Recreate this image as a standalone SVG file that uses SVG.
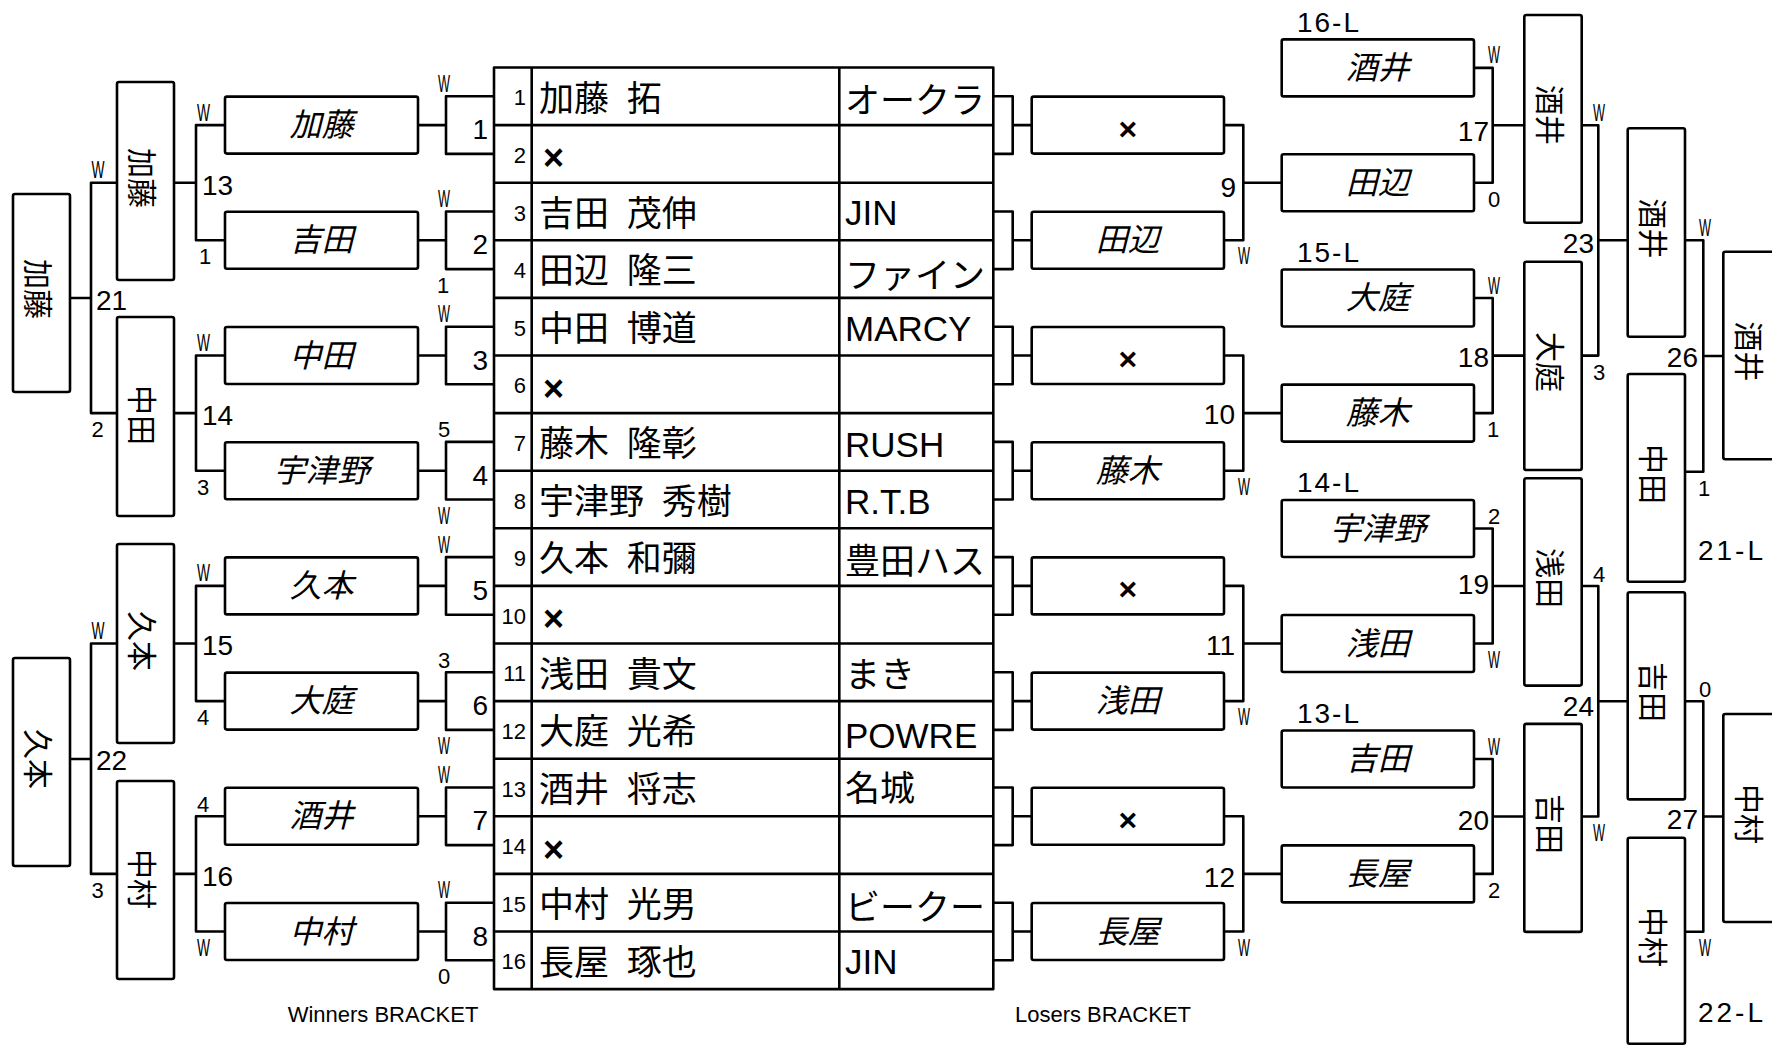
<svg xmlns="http://www.w3.org/2000/svg" width="1772" height="1046" viewBox="0 0 1772 1046">
<style>
.ln{fill:none;stroke:#000;stroke-width:2.6;stroke-linejoin:round}
.bx{fill:#fff;stroke:#000;stroke-width:2.6;stroke-linejoin:round}
text{font-family:"Liberation Sans","Noto Sans CJK JP",sans-serif;fill:#000}
.nm{font-size:35px;word-spacing:8px}
.no{font-size:22px;text-anchor:end}
.it{font-size:32px;font-style:italic;text-anchor:middle;dominant-baseline:central}
.vt{font-size:30px;text-anchor:middle;dominant-baseline:central}
.mn{font-size:28px}
.e{text-anchor:end}
.sm{font-size:22px}
.w{font-size:24px}
.xx{font-size:36px;font-weight:bold}
.xb{font-size:32px;font-weight:bold;text-anchor:middle}
.ft{font-size:22px;text-anchor:middle}
</style>
<rect width="1772" height="1046" fill="#fff"/>

<g id="connectors">
<path class="ln" d="M117,182.7H91V413.1H117M70,298H91"/>
<path class="ln" d="M117,643.5H91V873.9H117M70,759H91"/>
<path class="ln" d="M225,125.1H196V240.3H225M174,182.7H196"/>
<path class="ln" d="M225,355.5H196V470.7H225M174,413.1H196"/>
<path class="ln" d="M225,585.9H196V701.1H225M174,643.5H196"/>
<path class="ln" d="M225,816.3H196V931.5H225M174,873.9H196"/>
<path class="ln" d="M418,125.1H446M418,240.3H446M418,355.5H446M418,470.7H446M418,585.9H446M418,701.1H446M418,816.3H446M418,931.5H446"/>
<path class="ln" d="M494,96.3H446V153.9H494M494,211.5H446V269.1H494M494,326.7H446V384.3H494M494,441.9H446V499.5H494M494,557.1H446V614.7H494M494,672.3H446V729.9H494M494,787.5H446V845.1H494M494,902.7H446V960.3H494"/>
<path class="ln" d="M993.3,96.3H1012.7V153.9H993.3M993.3,211.5H1012.7V269.1H993.3M993.3,326.7H1012.7V384.3H993.3M993.3,441.9H1012.7V499.5H993.3M993.3,557.1H1012.7V614.7H993.3M993.3,672.3H1012.7V729.9H993.3M993.3,787.5H1012.7V845.1H993.3M993.3,902.7H1012.7V960.3H993.3"/>
<path class="ln" d="M1012.7,125.1H1031.7M1012.7,240.3H1031.7M1012.7,355.5H1031.7M1012.7,470.7H1031.7M1012.7,585.9H1031.7M1012.7,701.1H1031.7M1012.7,816.3H1031.7M1012.7,931.5H1031.7"/>
<path class="ln" d="M1224,125.1H1243.3V240.3H1224M1243.3,182.7H1281.7"/>
<path class="ln" d="M1224,355.5H1243.3V470.7H1224M1243.3,413.1H1281.7"/>
<path class="ln" d="M1224,585.9H1243.3V701.1H1224M1243.3,643.5H1281.7"/>
<path class="ln" d="M1224,816.3H1243.3V931.5H1224M1243.3,873.9H1281.7"/>
<path class="ln" d="M1474,67.9H1492.7V182.7H1474M1492.7,125.3H1524.3"/>
<path class="ln" d="M1474,298H1492.7V413.1H1474M1492.7,355.6H1524.3"/>
<path class="ln" d="M1474,528.5H1492.7V643.5H1474M1492.7,586H1524.3"/>
<path class="ln" d="M1474,759H1492.7V873.9H1474M1492.7,816.5H1524.3"/>
<path class="ln" d="M1581.7,125.3H1598.3V355.6H1581.7M1598.3,240.3H1627.7"/>
<path class="ln" d="M1581.7,586H1598.3V816.5H1581.7M1598.3,701.3H1627.7"/>
<path class="ln" d="M1685,240.3H1703.3V471.7H1685M1703.3,356H1723.3"/>
<path class="ln" d="M1685,701.3H1703.3V931.8H1685M1703.3,816.5H1723.3"/>
</g>

<g id="table">
<rect class="bx" x="494" y="67.5" width="499.3" height="921.6"/>
<path class="ln" d="M531.7,67.5V989.1M839.3,67.5V989.1M494,125.1H993.3M494,182.7H993.3M494,240.3H993.3M494,297.9H993.3M494,355.5H993.3M494,413.1H993.3M494,470.7H993.3M494,528.3H993.3M494,585.9H993.3M494,643.5H993.3M494,701.1H993.3M494,758.7H993.3M494,816.3H993.3M494,873.9H993.3M494,931.5H993.3"/>
<text class="no" x="526" y="105.3">1</text>
<text class="no" x="526" y="162.9">2</text>
<text class="no" x="526" y="220.5">3</text>
<text class="no" x="526" y="278.1">4</text>
<text class="no" x="526" y="335.7">5</text>
<text class="no" x="526" y="393.3">6</text>
<text class="no" x="526" y="450.9">7</text>
<text class="no" x="526" y="508.5">8</text>
<text class="no" x="526" y="566.1">9</text>
<text class="no" x="526" y="623.7">10</text>
<text class="no" x="526" y="681.3">11</text>
<text class="no" x="526" y="738.9">12</text>
<text class="no" x="526" y="796.5">13</text>
<text class="no" x="526" y="854.1">14</text>
<text class="no" x="526" y="911.7">15</text>
<text class="no" x="526" y="969.3">16</text>
<text class="nm" x="539" y="110.5">加藤 拓</text>
<text class="xx" x="543" y="170.4">×</text>
<text class="nm" x="539" y="225.7">吉田 茂伸</text>
<text class="nm" x="539" y="283.3">田辺 隆三</text>
<text class="nm" x="539" y="340.9">中田 博道</text>
<text class="xx" x="543" y="400.8">×</text>
<text class="nm" x="539" y="456.1">藤木 隆彰</text>
<text class="nm" x="539" y="513.7">宇津野 秀樹</text>
<text class="nm" x="539" y="571.3">久本 和彌</text>
<text class="xx" x="543" y="631.2">×</text>
<text class="nm" x="539" y="686.5">浅田 貴文</text>
<text class="nm" x="539" y="744.1">大庭 光希</text>
<text class="nm" x="539" y="801.7">酒井 将志</text>
<text class="xx" x="543" y="861.6">×</text>
<text class="nm" x="539" y="916.9">中村 光男</text>
<text class="nm" x="539" y="974.5">長屋 琢也</text>
<text class="nm" x="845" y="112.5">オークラ</text>
<text class="nm" x="845" y="224.7">JIN</text>
<text class="nm" x="845" y="288.3">ファイン</text>
<text class="nm" x="845" y="340.9">MARCY</text>
<text class="nm" x="845" y="457.1">RUSH</text>
<text class="nm" x="845" y="513.7">R.T.B</text>
<text class="nm" x="845" y="574.3">豊田ハス</text>
<text class="nm" x="845" y="686.5">まき</text>
<text class="nm" x="845" y="748.1">POWRE</text>
<text class="nm" x="845" y="800.7">名城</text>
<text class="nm" x="845" y="919.9">ビークー</text>
<text class="nm" x="845" y="973.5">JIN</text>
</g>

<g id="w-final-1"><rect class="bx" x="13" y="194" width="57" height="198" rx="2"/><text class="vt" transform="translate(37.5,289) rotate(90)">加藤</text></g>
<g id="w-final-2"><rect class="bx" x="13" y="658" width="57" height="208" rx="2"/><text class="vt" transform="translate(37.5,759) rotate(90)">久本</text></g>
<g id="w-sf-1"><rect class="bx" x="117" y="82" width="57" height="198" rx="2"/><text class="vt" transform="translate(141.5,178) rotate(90)">加藤</text></g>
<g id="w-sf-2"><rect class="bx" x="117" y="317" width="57" height="199" rx="2"/><text class="vt" transform="translate(141.5,415) rotate(90)">中田</text></g>
<g id="w-sf-3"><rect class="bx" x="117" y="544" width="57" height="199" rx="2"/><text class="vt" transform="translate(141.5,641) rotate(90)">久本</text></g>
<g id="w-sf-4"><rect class="bx" x="117" y="781" width="57" height="198" rx="2"/><text class="vt" transform="translate(141.5,879) rotate(90)">中村</text></g>

<g id="w-qf-1"><rect class="bx" x="225" y="96.6" width="193" height="57" rx="2"/><text class="it" x="321.5" y="125.1">加藤</text></g>
<g id="w-qf-2"><rect class="bx" x="225" y="211.8" width="193" height="57" rx="2"/><text class="it" x="321.5" y="240.3">吉田</text></g>
<g id="w-qf-3"><rect class="bx" x="225" y="327" width="193" height="57" rx="2"/><text class="it" x="321.5" y="355.5">中田</text></g>
<g id="w-qf-4"><rect class="bx" x="225" y="442.2" width="193" height="57" rx="2"/><text class="it" x="321.5" y="470.7">宇津野</text></g>
<g id="w-qf-5"><rect class="bx" x="225" y="557.4" width="193" height="57" rx="2"/><text class="it" x="321.5" y="585.9">久本</text></g>
<g id="w-qf-6"><rect class="bx" x="225" y="672.6" width="193" height="57" rx="2"/><text class="it" x="321.5" y="701.1">大庭</text></g>
<g id="w-qf-7"><rect class="bx" x="225" y="787.8" width="193" height="57" rx="2"/><text class="it" x="321.5" y="816.3">酒井</text></g>
<g id="w-qf-8"><rect class="bx" x="225" y="903" width="193" height="57" rx="2"/><text class="it" x="321.5" y="931.5">中村</text></g>

<g id="l-r1-1"><rect class="bx" x="1031.7" y="96.6" width="192.3" height="57" rx="2"/><text class="xb" x="1127.8" y="139.6">×</text></g>
<g id="l-r1-2"><rect class="bx" x="1031.7" y="211.8" width="192.3" height="57" rx="2"/><text class="it" x="1127.8" y="240.3">田辺</text></g>
<g id="l-r1-3"><rect class="bx" x="1031.7" y="327" width="192.3" height="57" rx="2"/><text class="xb" x="1127.8" y="370">×</text></g>
<g id="l-r1-4"><rect class="bx" x="1031.7" y="442.2" width="192.3" height="57" rx="2"/><text class="it" x="1127.8" y="470.7">藤木</text></g>
<g id="l-r1-5"><rect class="bx" x="1031.7" y="557.4" width="192.3" height="57" rx="2"/><text class="xb" x="1127.8" y="600.4">×</text></g>
<g id="l-r1-6"><rect class="bx" x="1031.7" y="672.6" width="192.3" height="57" rx="2"/><text class="it" x="1127.8" y="701.1">浅田</text></g>
<g id="l-r1-7"><rect class="bx" x="1031.7" y="787.8" width="192.3" height="57" rx="2"/><text class="xb" x="1127.8" y="830.8">×</text></g>
<g id="l-r1-8"><rect class="bx" x="1031.7" y="903" width="192.3" height="57" rx="2"/><text class="it" x="1127.8" y="931.5">長屋</text></g>

<g id="l-r2-1"><rect class="bx" x="1281.7" y="39.4" width="192.3" height="57" rx="2"/><text class="it" x="1377.8" y="67.9">酒井</text></g>
<g id="l-r2-2"><rect class="bx" x="1281.7" y="154.2" width="192.3" height="57" rx="2"/><text class="it" x="1377.8" y="182.7">田辺</text></g>
<g id="l-r2-3"><rect class="bx" x="1281.7" y="269.5" width="192.3" height="57" rx="2"/><text class="it" x="1377.8" y="298">大庭</text></g>
<g id="l-r2-4"><rect class="bx" x="1281.7" y="384.6" width="192.3" height="57" rx="2"/><text class="it" x="1377.8" y="413.1">藤木</text></g>
<g id="l-r2-5"><rect class="bx" x="1281.7" y="500" width="192.3" height="57" rx="2"/><text class="it" x="1377.8" y="528.5">宇津野</text></g>
<g id="l-r2-6"><rect class="bx" x="1281.7" y="615" width="192.3" height="57" rx="2"/><text class="it" x="1377.8" y="643.5">浅田</text></g>
<g id="l-r2-7"><rect class="bx" x="1281.7" y="730.5" width="192.3" height="57" rx="2"/><text class="it" x="1377.8" y="759">吉田</text></g>
<g id="l-r2-8"><rect class="bx" x="1281.7" y="845.4" width="192.3" height="57" rx="2"/><text class="it" x="1377.8" y="873.9">長屋</text></g>

<g id="l-sf-1"><rect class="bx" x="1524.3" y="15" width="57.4" height="207.7" rx="2"/><text class="vt" transform="translate(1549,115) rotate(90)">酒井</text></g>
<g id="l-sf-2"><rect class="bx" x="1524.3" y="261.7" width="57.4" height="208.3" rx="2"/><text class="vt" transform="translate(1549,362) rotate(90)">大庭</text></g>
<g id="l-sf-3"><rect class="bx" x="1524.3" y="478.3" width="57.4" height="207.3" rx="2"/><text class="vt" transform="translate(1549,578) rotate(90)">浅田</text></g>
<g id="l-sf-4"><rect class="bx" x="1524.3" y="723.9" width="57.4" height="208" rx="2"/><text class="vt" transform="translate(1549,824) rotate(90)">吉田</text></g>

<g id="l-f-1"><rect class="bx" x="1627.7" y="128.3" width="57.3" height="208.4" rx="2"/><text class="vt" transform="translate(1652.5,228.5) rotate(90)">酒井</text></g>
<g id="l-f-2"><rect class="bx" x="1627.7" y="374" width="57.3" height="207.8" rx="2"/><text class="vt" transform="translate(1652.5,474) rotate(90)">中田</text></g>
<g id="l-f-3"><rect class="bx" x="1627.7" y="592.3" width="57.3" height="207.1" rx="2"/><text class="vt" transform="translate(1652.5,692) rotate(90)">吉田</text></g>
<g id="l-f-4"><rect class="bx" x="1627.7" y="837.7" width="57.3" height="206" rx="2"/><text class="vt" transform="translate(1652.5,937) rotate(90)">中村</text></g>

<g id="gf-1"><rect class="bx" x="1723.3" y="251.7" width="57.4" height="207.6" rx="2"/><text class="vt" transform="translate(1748,351.5) rotate(90)">酒井</text></g>
<g id="gf-2"><rect class="bx" x="1723.3" y="714" width="57.4" height="208" rx="2"/><text class="vt" transform="translate(1748,814) rotate(90)">中村</text></g>

<g id="match-numbers">
<text class="mn" x="96" y="310">21</text>
<text class="mn" x="96" y="770">22</text>
<text class="mn" x="202" y="195">13</text>
<text class="mn" x="202" y="425">14</text>
<text class="mn" x="202" y="655">15</text>
<text class="mn" x="202" y="886">16</text>
<text class="mn e" x="488" y="139.1">1</text>
<text class="mn e" x="488" y="254.3">2</text>
<text class="mn e" x="488" y="369.5">3</text>
<text class="mn e" x="488" y="484.7">4</text>
<text class="mn e" x="488" y="599.9">5</text>
<text class="mn e" x="488" y="715.1">6</text>
<text class="mn e" x="488" y="830.3">7</text>
<text class="mn e" x="488" y="945.5">8</text>
<text class="mn e" x="1236" y="197">9</text>
<text class="mn e" x="1235" y="424">10</text>
<text class="mn e" x="1235" y="655">11</text>
<text class="mn e" x="1235" y="887">12</text>
<text class="mn e" x="1489" y="141">17</text>
<text class="mn e" x="1489" y="367">18</text>
<text class="mn e" x="1489" y="594">19</text>
<text class="mn e" x="1489" y="830">20</text>
<text class="mn e" x="1594" y="253">23</text>
<text class="mn e" x="1594" y="716">24</text>
<text class="mn e" x="1698" y="367">26</text>
<text class="mn e" x="1698" y="829">27</text>
<text class="mn" x="1297" y="32" textLength="62" lengthAdjust="spacing">16-L</text>
<text class="mn" x="1297" y="262" textLength="62" lengthAdjust="spacing">15-L</text>
<text class="mn" x="1297" y="492" textLength="62" lengthAdjust="spacing">14-L</text>
<text class="mn" x="1297" y="723" textLength="62" lengthAdjust="spacing">13-L</text>
<text class="mn" x="1698" y="560" textLength="65" lengthAdjust="spacing">21-L</text>
<text class="mn" x="1698" y="1022" textLength="65" lengthAdjust="spacing">22-L</text>
</g>

<g id="scores">
<text class="w" x="91.5" y="178.2" textLength="13" lengthAdjust="spacingAndGlyphs">W</text>
<text class="sm" x="91.5" y="437.1">2</text>
<text class="w" x="91.5" y="639" textLength="13" lengthAdjust="spacingAndGlyphs">W</text>
<text class="sm" x="91.5" y="897.9">3</text>
<text class="w" x="197" y="120.6" textLength="13" lengthAdjust="spacingAndGlyphs">W</text>
<text class="sm" x="199" y="264.3">1</text>
<text class="w" x="197" y="351" textLength="13" lengthAdjust="spacingAndGlyphs">W</text>
<text class="sm" x="197" y="494.7">3</text>
<text class="w" x="197" y="581.4" textLength="13" lengthAdjust="spacingAndGlyphs">W</text>
<text class="sm" x="197" y="725.1">4</text>
<text class="sm" x="197" y="811.8">4</text>
<text class="w" x="197" y="955.5" textLength="13" lengthAdjust="spacingAndGlyphs">W</text>
<text class="w" x="438" y="91.8" textLength="12" lengthAdjust="spacingAndGlyphs">W</text>
<text class="w" x="438" y="207" textLength="12" lengthAdjust="spacingAndGlyphs">W</text>
<text class="sm" x="437" y="293.1">1</text>
<text class="w" x="438" y="322.2" textLength="12" lengthAdjust="spacingAndGlyphs">W</text>
<text class="sm" x="438" y="437.4">5</text>
<text class="w" x="438" y="523.5" textLength="12" lengthAdjust="spacingAndGlyphs">W</text>
<text class="w" x="438" y="552.6" textLength="12" lengthAdjust="spacingAndGlyphs">W</text>
<text class="sm" x="438" y="667.8">3</text>
<text class="w" x="438" y="753.9" textLength="12" lengthAdjust="spacingAndGlyphs">W</text>
<text class="w" x="438" y="783" textLength="12" lengthAdjust="spacingAndGlyphs">W</text>
<text class="w" x="438" y="898.2" textLength="12" lengthAdjust="spacingAndGlyphs">W</text>
<text class="sm" x="438" y="984.3">0</text>
<text class="w" x="1238" y="264.3" textLength="12" lengthAdjust="spacingAndGlyphs">W</text>
<text class="w" x="1238" y="494.7" textLength="12" lengthAdjust="spacingAndGlyphs">W</text>
<text class="w" x="1238" y="725.1" textLength="12" lengthAdjust="spacingAndGlyphs">W</text>
<text class="w" x="1238" y="955.5" textLength="12" lengthAdjust="spacingAndGlyphs">W</text>
<text class="w" x="1488" y="63.4" textLength="12" lengthAdjust="spacingAndGlyphs">W</text>
<text class="sm" x="1488" y="206.7">0</text>
<text class="w" x="1488" y="293.5" textLength="12" lengthAdjust="spacingAndGlyphs">W</text>
<text class="sm" x="1487" y="437.1">1</text>
<text class="sm" x="1488" y="524">2</text>
<text class="w" x="1488" y="667.5" textLength="12" lengthAdjust="spacingAndGlyphs">W</text>
<text class="w" x="1488" y="754.5" textLength="12" lengthAdjust="spacingAndGlyphs">W</text>
<text class="sm" x="1488" y="897.9">2</text>
<text class="w" x="1593" y="120.8" textLength="12" lengthAdjust="spacingAndGlyphs">W</text>
<text class="sm" x="1593" y="379.6">3</text>
<text class="sm" x="1593" y="581.5">4</text>
<text class="w" x="1593" y="840.5" textLength="12" lengthAdjust="spacingAndGlyphs">W</text>
<text class="w" x="1699" y="235.8" textLength="12" lengthAdjust="spacingAndGlyphs">W</text>
<text class="sm" x="1698" y="495.7">1</text>
<text class="sm" x="1699" y="696.8">0</text>
<text class="w" x="1699" y="955.8" textLength="12" lengthAdjust="spacingAndGlyphs">W</text>
</g>

<g id="captions">
<text class="ft" x="383" y="1022">Winners BRACKET</text>
<text class="ft" x="1103" y="1022">Losers BRACKET</text>
</g>
</svg>
